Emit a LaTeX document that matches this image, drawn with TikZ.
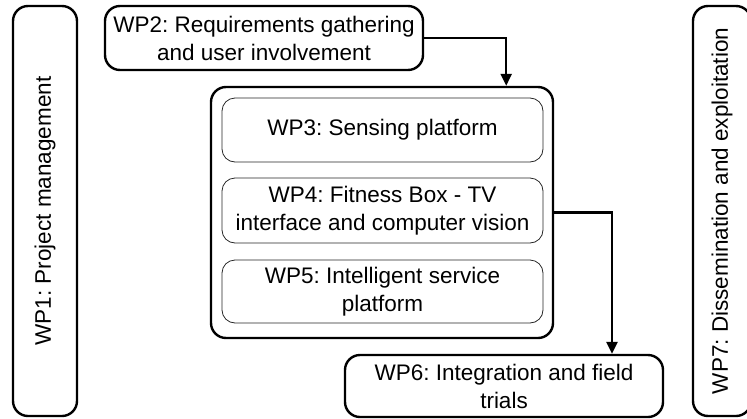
\documentclass[tikz,border=0pt]{standalone}
\usepackage{fontspec}
\setmainfont{Liberation Sans}
\usetikzlibrary{arrows.meta,calc}
\frenchspacing
\begin{document}
\begin{tikzpicture}[x=1pt,y=-1pt,
  font=\fontsize{22.5}{28}\selectfont,
  wpbox/.style={draw=black,line width=2.4pt,rounded corners=15pt,align=center,inner sep=0pt},
  subbox/.style={draw=black!85,line width=0.8pt,rounded corners=13pt,align=center,inner sep=0pt,
    minimum width=321pt},
  arr/.style={line width=2.4pt,-{Triangle[length=12pt,width=11pt]}}]
\useasboundingbox (0,0) rectangle (747,418);
\node[wpbox,rotate=90,minimum width=410pt,minimum height=64pt] (wp1) at (45,211) {WP1: Project management};
\node[wpbox,minimum width=318pt,minimum height=64pt] (wp2) at (264,38) {WP2: Requirements gathering\\and user involvement};
\node[wpbox,minimum width=342pt,minimum height=251pt] (outer) at (382,212.5) {};
\node[subbox,minimum height=64pt] (wp3) at (382.5,130) {WP3: Sensing platform};
\node[subbox,minimum height=65pt] (wp4) at (382.5,210.5) {WP4: Fitness Box - TV\\interface and computer vision};
\node[subbox,minimum height=63pt] (wp5) at (382.5,291.5) {WP5: Intelligent service\\platform};
\node[wpbox,minimum width=318pt,minimum height=62pt] (wp6) at (504,386) {WP6: Integration and field\\trials};
\node[wpbox,rotate=90,minimum width=410pt,minimum height=58pt] (wp7) at (722,211) {WP7: Dissemination and exploitation};
\draw[arr] (wp2.east) -| ($(outer.north east)+(-48,0)$);
\draw[arr] (outer.east) -| ($(wp6.north)+(108,0)$);
\end{tikzpicture}
\end{document}
